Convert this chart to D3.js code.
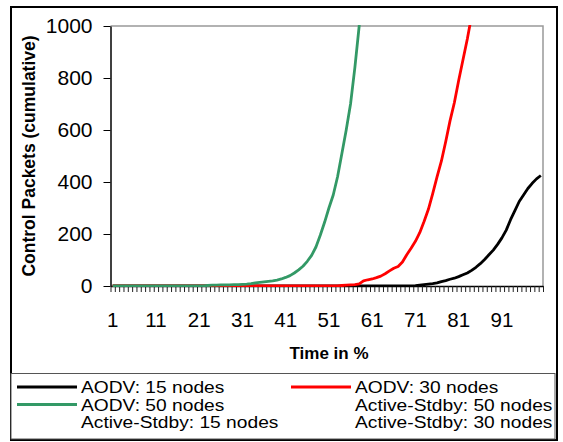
<!DOCTYPE html>
<html>
<head>
<meta charset="utf-8">
<script src="https://cdn.jsdelivr.net/npm/d3@7"></script>
<style>
  body { margin: 0; background: #fff; }
  svg { font-family: Arial, "Liberation Sans", sans-serif; }
</style>
</head>
<body>
<svg id="chart" width="563" height="442"></svg>
<script>
// time categories 1..100 (%)
const categories = d3.range(1, 101);
const xLabels = [1, 11, 21, 31, 41, 51, 61, 71, 81, 91];
const yTicks = [0, 200, 400, 600, 800, 1000];

// cumulative control packets
const aodv15 = [
  0,0,0,0,0,0,0,0,0,0, 0,0,0,0,0,0,0,0,0,0,
  0,0,0,0,0,0,0,0,0,0, 0,0,0,0,0,0,0,0,0,0,
  0,0,0,0,0,0,0,0,0,0, 0,0,0,0,0,0,0,0,0,0,
  0,0,0,0,0,0,0,0,0,0, 1,3,5,7,9,12,17,21,26,30,
  36,43,50,60,72,86,102,120,138,160, 185,215,255,290,325,350,375,395,412,425
];
const aodv30 = [
  0,0,0,0,0,0,0,0,0,0, 0,0,0,0,0,0,0,0,0,0,
  0,0,0,0,0,0,0,0,0,0, 0,0,0,0,0,0,0,0,0,0,
  0,0,0,0,0,0,0,0,0,0, 0,0,0,2,3,4,5,8,20,24,
  27,32,38,47,58,68,75,92,120,145, 172,205,248,295,355,420,480,555,635,705,
  790,870,950,1040,1130
];
const aodv50 = [
  0,0,0,0,0,0,0,0,0,0, 0,0,0,0,0,0,0,0,0,0,
  0,0,2,3,3,4,4,4,5,5, 6,7,9,12,14,16,18,20,23,27,
  33,40,50,62,76,95,118,150,195,245, 300,350,420,510,600,700,840,1000,1150,1300
];

const series = [
  {name: "AODV: 15 nodes", values: aodv15, color: "#000000"},
  {name: "AODV: 30 nodes", values: aodv30, color: "#ff0000"},
  {name: "AODV: 50 nodes", values: aodv50, color: "#339966"}
];
const legendItems = [
  {name: "AODV: 15 nodes", color: "#000000", col: 0, row: 0},
  {name: "AODV: 30 nodes", color: "#ff0000", col: 1, row: 0},
  {name: "AODV: 50 nodes", color: "#339966", col: 0, row: 1},
  {name: "Active-Stdby: 50 nodes", color: null, col: 1, row: 1},
  {name: "Active-Stdby: 15 nodes", color: null, col: 0, row: 2},
  {name: "Active-Stdby: 30 nodes", color: null, col: 1, row: 2}
];

const svg = d3.select("#chart");
const plotL = 110.5, plotR = 543, plotT = 26, plotB = 286;

// outer frame
svg.append("rect")
    .attr("x", 11).attr("y", 7)
    .attr("width", 546).attr("height", 433)
    .attr("fill", "none").attr("stroke", "#000").attr("stroke-width", 2);

const x = d3.scaleBand().domain(categories).range([plotL, plotR]).padding(0);
const xEdge = d3.scaleLinear().domain([0, 100]).range([plotL, plotR]);
const y = d3.scaleLinear().domain([0, 1000]).range([plotB, plotT]);

// plot border, top and right in gray
svg.append("path")
    .attr("d", `M${plotL},${plotT}H${plotR}V${plotB}`)
    .attr("fill", "none").attr("stroke", "#999").attr("stroke-width", 1.5);

svg.append("clipPath").attr("id", "clip")
  .append("rect")
    .attr("x", plotL).attr("y", plotT - 1)
    .attr("width", plotR - plotL).attr("height", plotB - plotT + 2);

// y axis
const yAxis = svg.append("g")
    .attr("transform", `translate(${plotL},0)`)
    .call(d3.axisLeft(y).tickValues(yTicks).tickFormat(d3.format("d"))
        .tickSize(7).tickPadding(11).tickSizeOuter(0));
yAxis.select(".domain").attr("stroke", "#000").attr("stroke-width", 1.5);
yAxis.selectAll("text").attr("font-size", 21).attr("fill", "#000").attr("font-family", "Arial, 'Liberation Sans'");

// x axis: small tick between every category
const xTickAxis = svg.append("g")
    .attr("transform", `translate(0,${plotB})`)
    .call(d3.axisBottom(xEdge).tickValues(d3.range(0, 101)).tickSize(6).tickFormat("").tickSizeOuter(0));
xTickAxis.select(".domain").attr("stroke", "#000").attr("stroke-width", 1.5);
xTickAxis.selectAll(".tick line").attr("stroke", "#222");

const xLabelAxis = svg.append("g")
    .attr("transform", `translate(0,${plotB})`)
    .call(d3.axisBottom(x).tickValues(xLabels).tickSize(0).tickPadding(26));
xLabelAxis.select(".domain").remove();
xLabelAxis.selectAll("text").attr("font-size", 20.5).attr("fill", "#000").attr("font-family", "Arial, 'Liberation Sans'");

// lines
const line = d3.line()
    .x((d, i) => x(categories[i]) + x.bandwidth() / 2)
    .y(d => y(d));

svg.append("g").attr("clip-path", "url(#clip)")
  .selectAll("path")
  .data(series)
  .join("path")
    .attr("d", d => line(d.values))
    .attr("fill", "none")
    .attr("stroke", d => d.color)
    .attr("stroke-width", 2.8)
    .attr("stroke-linejoin", "round");

// axis titles
svg.append("text")
    .attr("x", 329).attr("y", 359)
    .attr("text-anchor", "middle")
    .attr("font-size", 17).attr("font-weight", "bold")
    .text("Time in %");

svg.append("text")
    .attr("transform", "translate(35,156) rotate(-90)")
    .attr("text-anchor", "middle")
    .attr("font-size", 17.5).attr("font-weight", "bold")
    .text("Control Packets (cumulative)");

// legend
const legend = svg.append("g");
legend.append("rect")
    .attr("x", 11).attr("y", 373.5)
    .attr("width", 544).attr("height", 65.5)
    .attr("fill", "#fff").attr("stroke", "#555").attr("stroke-width", 1);

const colX = [17, 291];
const rowY = [387, 404.5, 422];
const item = legend.selectAll(".item")
  .data(legendItems)
  .join("g")
    .attr("class", "item")
    .attr("transform", d => `translate(${colX[d.col]},${rowY[d.row]})`);

item.filter(d => d.color)
  .append("line")
    .attr("x1", 0).attr("x2", 60)
    .attr("stroke", d => d.color).attr("stroke-width", 3);

// Excel's legend text comes out a bit wider than the glyph height suggests
item.append("text")
    .attr("transform", "translate(64,0) scale(1.13,1)")
    .attr("dy", "0.36em")
    .attr("font-size", 17)
    .text(d => d.name);
</script>
</body>
</html>
